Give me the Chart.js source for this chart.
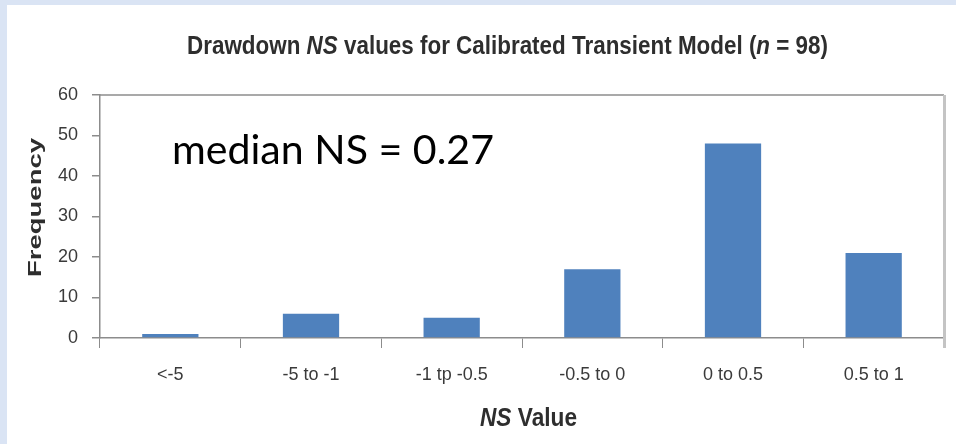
<!DOCTYPE html>
<html><head><meta charset="utf-8">
<script src="https://cdn.jsdelivr.net/npm/chart.js@4.4.1/dist/chart.umd.min.js"></script>
<style>
html,body{margin:0;padding:0;background:#dae4f4;width:956px;height:444px;overflow:hidden}
#wrap{position:absolute;left:7px;top:5px;width:949px;height:439px;background:#fff}
canvas{display:block}
</style></head><body><div id="wrap"><canvas id="c" width="949" height="439"></canvas></div>
<script>
const categories = ['<-5', '-5 to -1', '-1 tp -0.5', '-0.5 to 0', '0 to 0.5', '0.5 to 1'];
const frequency = [1, 6, 5, 17, 48, 21];
const yTicks = [0, 10, 20, 30, 40, 50, 60];
const titleParts = [['Drawdown ', false], ['NS', true], [' values for Calibrated Transient Model (', false], ['n', true], [' = 98)', false]];
const xTitleParts = [['NS', true], [' Value', false]];
const yTitleText = 'Frequency';
const annotationText = 'median NS = 0.27';

function drawParts(ctx, parts, size, family, weight, x, y, targetW) {
  let total = 0;
  const fonts = parts.map(p => (p[1] ? 'italic ' : '') + weight + ' ' + size + 'px ' + family);
  parts.forEach((p, i) => { ctx.font = fonts[i]; total += ctx.measureText(p[0]).width; });
  const sx = targetW ? targetW / total : 1;
  ctx.save();
  ctx.translate(x, y);
  ctx.scale(sx, 1);
  ctx.textAlign = 'left';
  ctx.textBaseline = 'alphabetic';
  let cx = 0;
  parts.forEach((p, i) => { ctx.font = fonts[i]; ctx.fillText(p[0], cx, 0); cx += ctx.measureText(p[0]).width; });
  ctx.restore();
}

const textPlugin = {
  id: 'texts',
  afterDraw(chart) {
    const ctx = chart.ctx;
    const a = chart.chartArea;
    ctx.save();
    ctx.strokeStyle = '#8c8c8c';
    ctx.lineWidth = 1.5;
    ctx.beginPath(); ctx.moveTo(a.left, a.top); ctx.lineTo(a.right, a.top); ctx.stroke();
    ctx.strokeStyle = '#c4c4c4';
    ctx.lineWidth = 3;
    ctx.beginPath(); ctx.moveTo(a.right + 0.5, a.top); ctx.lineTo(a.right + 0.5, a.bottom + 10); ctx.stroke();

    ctx.fillStyle = '#2e2e2e';
    drawParts(ctx, titleParts, 25, '"Liberation Sans", Arial, sans-serif', 'bold', 180, 49, 641);
    drawParts(ctx, xTitleParts, 25, '"Liberation Sans", Arial, sans-serif', 'bold', 473, 421, 97);

    ctx.save();
    ctx.translate(34, 202.5);
    ctx.rotate(-Math.PI / 2);
    ctx.font = 'bold 18px "Liberation Sans", Arial, sans-serif';
    const w = ctx.measureText(yTitleText).width;
    ctx.scale(139 / w, 1);
    ctx.textAlign = 'center';
    ctx.textBaseline = 'alphabetic';
    ctx.fillText(yTitleText, 0, 0);
    ctx.restore();

    ctx.fillStyle = '#000';
    drawParts(ctx, [[annotationText, false]], 40, 'Lato, "Open Sans", sans-serif', 'normal', 165, 159, 322);
    ctx.restore();
  }
};

new Chart(document.getElementById('c'), {
  type: 'bar',
  data: {
    labels: categories,
    datasets: [{
      data: frequency,
      backgroundColor: '#4f81bd',
      borderWidth: 0,
      categoryPercentage: 1,
      barPercentage: 0.4
    }]
  },
  options: {
    responsive: false,
    animation: false,
    devicePixelRatio: 1,
    layout: { padding: { left: 0, top: 90, right: 12, bottom: 0 } },
    plugins: { legend: { display: false }, title: { display: false }, tooltip: { enabled: false } },
    scales: {
      x: {
        grid: { offset: true, drawOnChartArea: false, drawTicks: true, tickLength: 10, color: '#8c8c8c', lineWidth: 1 },
        border: { color: '#8c8c8c', width: 1.5 },
        ticks: { color: '#3a3a3a', font: { family: '"Liberation Sans", Arial, sans-serif', size: 18 }, padding: 16, maxRotation: 0, autoSkip: false },
        afterFit(s) { s.height = 106; }
      },
      y: {
        min: yTicks[0],
        max: yTicks[yTicks.length - 1],
        grid: { drawOnChartArea: false, drawTicks: true, tickLength: 8, color: '#8c8c8c', lineWidth: 1.5 },
        border: { color: '#8c8c8c', width: 1.5 },
        ticks: { stepSize: yTicks[1] - yTicks[0], color: '#3a3a3a', font: { family: '"Liberation Sans", Arial, sans-serif', size: 18 }, padding: 14 },
        afterFit(s) { s.width = 93; }
      }
    }
  },
  plugins: [textPlugin]
});
</script>
</body></html>
